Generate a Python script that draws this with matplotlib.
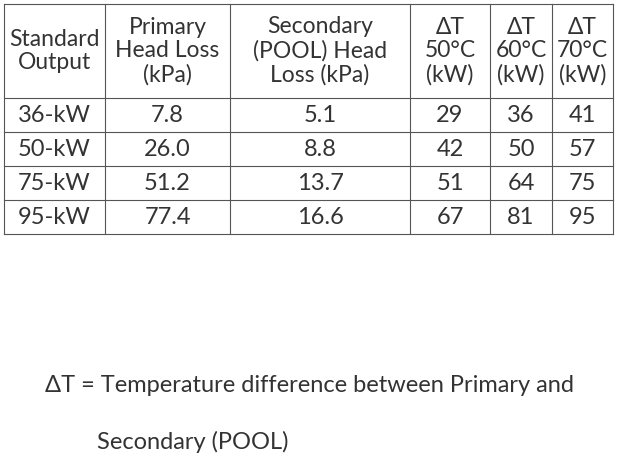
import matplotlib.pyplot as plt

headers = ["Standard\nOutput", "Primary\nHead Loss\n(kPa)", "Secondary\n(POOL) Head\nLoss (kPa)",
           "ΔT\n50°C\n(kW)", "ΔT\n60°C\n(kW)", "ΔT\n70°C\n(kW)"]
outputs = ["36-kW", "50-kW", "75-kW", "95-kW"]
primary = ["7.8", "26.0", "51.2", "77.4"]
secondary = ["5.1", "8.8", "13.7", "16.6"]
dt50 = ["29", "42", "51", "67"]
dt60 = ["36", "50", "64", "81"]
dt70 = ["41", "57", "75", "95"]

col_edges = [4, 105, 230, 410, 490, 552, 613]
row_edges = [4, 98, 132, 166, 200, 234]
txt = "#333333"

plt.rcParams['font.family'] = ['Lato', 'DejaVu Sans']
fig = plt.figure(figsize=(6.33, 4.68), dpi=100)
ax = fig.add_axes([0, 0, 1, 1])
ax.set_xlim(0, 633)
ax.set_ylim(468, 0)
ax.axis('off')

for x in col_edges:
    ax.plot([x, x], [row_edges[0], row_edges[-1]], color="#555555", lw=0.8)
for y in row_edges:
    ax.plot([col_edges[0], col_edges[-1]], [y, y], color="#555555", lw=0.8)

def cx(i):
    return (col_edges[i] + col_edges[i + 1]) / 2

def cy(j):
    return (row_edges[j] + row_edges[j + 1]) / 2

for i, h in enumerate(headers):
    ax.text(cx(i), cy(0), h, ha='center', va='center', fontsize=16.5,
            color=txt, linespacing=1.15)

columns = [outputs, primary, secondary, dt50, dt60, dt70]
for i, col in enumerate(columns):
    for j, v in enumerate(col):
        ax.text(cx(i), cy(j + 1), v, ha='center', va='center', fontsize=17, color=txt)

ax.text(45, 386, "ΔT = Temperature difference between Primary and",
        ha='left', va='center', fontsize=17, color=txt)
ax.text(97, 442, "Secondary (POOL)", ha='left', va='center', fontsize=17, color=txt)

fig.savefig("out.png", dpi=100)
